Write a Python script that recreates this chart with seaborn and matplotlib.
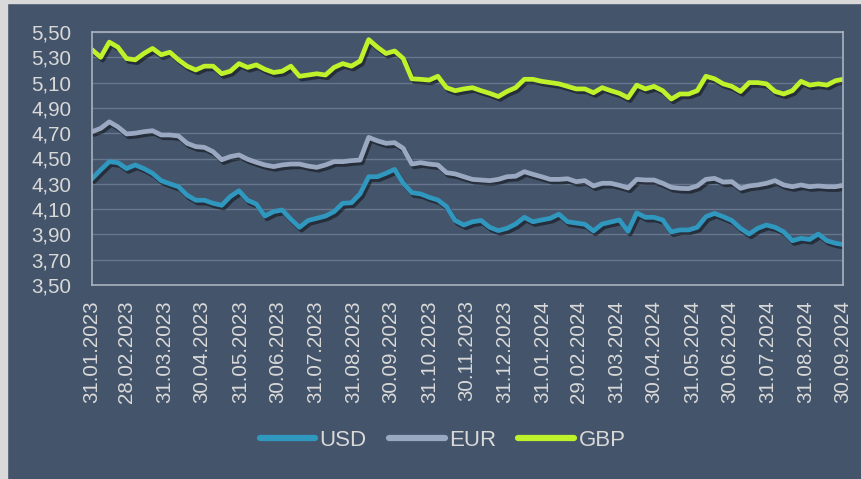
import numpy as np
import pandas as pd
import matplotlib
matplotlib.use("Agg")
import matplotlib.pyplot as plt
import matplotlib.patheffects as pe
from matplotlib.ticker import FuncFormatter
from matplotlib.patches import Rectangle
from matplotlib.lines import Line2D
import seaborn as sns

# ---- data (weekly readings) ----
dates = list(pd.date_range("2023-01-31", periods=87, freq="7D")) + [pd.Timestamp("2024-09-30")]

usd = [4.34, 4.41, 4.475, 4.467, 4.42, 4.449, 4.42, 4.383, 4.325, 4.30, 4.277, 4.21, 4.17, 4.17, 4.146, 4.13, 4.20, 4.245,
       4.17, 4.14, 4.045, 4.08, 4.093, 4.02, 3.956, 4.01, 4.027, 4.045, 4.08, 4.146, 4.15, 4.22, 4.356, 4.356, 4.383,
       4.414, 4.304, 4.23, 4.22, 4.193, 4.172, 4.12, 4.01, 3.974, 4.00, 4.01, 3.956, 3.93, 3.948, 3.982, 4.035, 4.00,
       4.014, 4.027, 4.06, 4.00, 3.99, 3.98, 3.927, 3.982, 3.998, 4.014, 3.924, 4.07, 4.035, 4.035, 4.014, 3.92, 3.935, 3.935,
       3.956, 4.04, 4.066, 4.04, 4.01, 3.948, 3.903, 3.948, 3.974, 3.956, 3.92, 3.85, 3.869, 3.86, 3.903, 3.85, 3.83, 3.82]

eur = [4.712, 4.738, 4.79, 4.75, 4.694, 4.70, 4.712, 4.72, 4.686, 4.686, 4.678, 4.62, 4.594, 4.588, 4.554, 4.49, 4.515, 4.528,
       4.494, 4.47, 4.449, 4.436, 4.449, 4.456, 4.456, 4.44, 4.43, 4.449, 4.475, 4.475, 4.483, 4.488, 4.667, 4.64, 4.62,
       4.625, 4.58, 4.456, 4.467, 4.456, 4.449, 4.388, 4.378, 4.356, 4.335, 4.33, 4.325, 4.335, 4.356, 4.36, 4.396, 4.375,
       4.356, 4.335, 4.335, 4.34, 4.317, 4.325, 4.283, 4.304, 4.304, 4.288, 4.267, 4.335, 4.33, 4.33, 4.304, 4.272, 4.264, 4.262,
       4.283, 4.335, 4.343, 4.314, 4.317, 4.264, 4.283, 4.291, 4.304, 4.325, 4.291, 4.277, 4.291, 4.277, 4.283, 4.277, 4.277, 4.288]

gbp = [5.36, 5.30, 5.42, 5.38, 5.29, 5.28, 5.33, 5.37, 5.32, 5.34, 5.28, 5.23, 5.20, 5.23, 5.23, 5.17, 5.19, 5.25,
       5.22, 5.24, 5.205, 5.18, 5.19, 5.23, 5.15, 5.16, 5.17, 5.16, 5.22, 5.25, 5.23, 5.27, 5.44, 5.38, 5.33,
       5.35, 5.29, 5.13, 5.126, 5.12, 5.15, 5.06, 5.036, 5.05, 5.06, 5.036, 5.015, 4.99, 5.03, 5.06, 5.126, 5.126,
       5.11, 5.10, 5.09, 5.07, 5.05, 5.05, 5.02, 5.06, 5.036, 5.015, 4.98, 5.08, 5.05, 5.07, 5.036, 4.97, 5.01, 5.01,
       5.036, 5.15, 5.13, 5.09, 5.07, 5.03, 5.10, 5.10, 5.09, 5.03, 5.01, 5.036, 5.11, 5.08, 5.09, 5.08, 5.115, 5.126]

series_names = ["USD", "EUR", "GBP"]
colors = ["#3097BF", "#9AA8C2", "#BFF22A"]
y_ticks = [3.50, 3.70, 3.90, 4.10, 4.30, 4.50, 4.70, 4.90, 5.10, 5.30, 5.50]

df = pd.DataFrame({"date": dates * 3,
                   "value": usd + eur + gbp,
                   "currency": ["USD"] * len(dates) + ["EUR"] * len(dates) + ["GBP"] * len(dates)})

# ---- styling ----
BG = "#44546A"
TXT = "#D9D9D9"
sns.set_style("dark")
plt.rcParams["font.family"] = ["Liberation Sans", "DejaVu Sans"]

fig = plt.figure(figsize=(8.61, 4.79), dpi=100, facecolor=BG)
ax = fig.add_axes([92 / 861, 1 - 285 / 479, (843 - 92) / 861, (285 - 32) / 479])
ax.set_facecolor(BG)

sns.lineplot(data=df, x="date", y="value", hue="currency", hue_order=series_names,
             palette=colors, linewidth=3.4, ax=ax, legend=False)

for ln in ax.get_lines():
    ln.set_solid_capstyle("round")
    ln.set_solid_joinstyle("round")
    ln.set_path_effects([pe.SimpleLineShadow(offset=(1.5, -2.0), shadow_color="black", alpha=0.45),
                         pe.Normal()])

ax.set_xlim(pd.Timestamp("2023-01-31"), pd.Timestamp("2024-09-30"))
ax.set_ylim(3.5, 5.5)
ax.set_yticks(y_ticks)
ax.yaxis.set_major_formatter(FuncFormatter(lambda v, p: f"{v:.2f}".replace(".", ",")))

month_ends = pd.date_range("2023-01-31", "2024-09-30", freq="ME")
ax.set_xticks(month_ends)
ax.set_xticklabels([d.strftime("%d.%m.%Y") for d in month_ends], rotation=90)

ax.tick_params(axis="both", length=0, colors=TXT, labelsize=14.8)
ax.tick_params(axis="y", pad=15)
ax.tick_params(axis="x", pad=11)
ax.set_xlabel("")
ax.set_ylabel("")

ax.grid(False)
ax.yaxis.grid(True, color="#66768C", linewidth=1.0)
ax.set_axisbelow(True)
for s in ax.spines.values():
    s.set_visible(True)
    s.set_color("#A9B2C0")
    s.set_linewidth(1.2)

handles = [Line2D([0], [0], color=c, linewidth=4.5, solid_capstyle="round") for c in colors]
leg = fig.legend(handles, series_names, loc="center", bbox_to_anchor=(0.514, 0.081), ncol=3,
                 frameon=False, fontsize=16, handlelength=2.5, handletextpad=0.2, columnspacing=1.0,
                 labelcolor=TXT)

fig.add_artist(Rectangle((0, 0), 7 / 861, 1, transform=fig.transFigure, color="#D9D9D9", zorder=10))
fig.add_artist(Rectangle((0, 1 - 3 / 479), 1, 3 / 479, transform=fig.transFigure, color="#D9D9D9", zorder=10))

fig.savefig("out.png", dpi=100, facecolor=BG)
